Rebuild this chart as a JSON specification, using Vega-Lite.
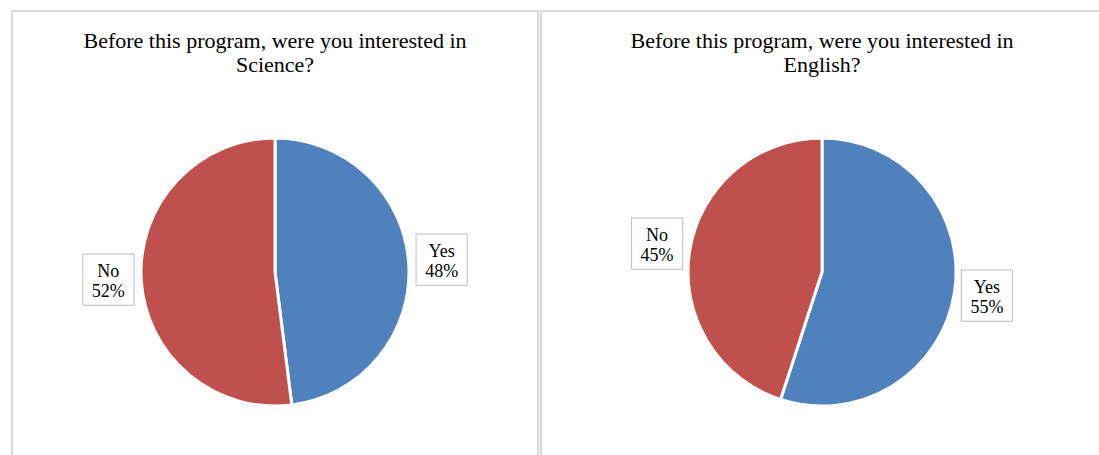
{
  "$schema": "https://vega.github.io/schema/vega-lite/v6.json",
  "background": "white",
  "padding": {"left": 11, "top": 10, "right": 0, "bottom": 0},
  "data": {
    "values": [
      {"question": "Science", "answer": "Yes", "percent": 48},
      {"question": "Science", "answer": "No", "percent": 52},
      {"question": "English", "answer": "Yes", "percent": 55},
      {"question": "English", "answer": "No", "percent": 45}
    ]
  },
  "transform": [
    {"calculate": "datum.answer === 'Yes' ? 0 : 1", "as": "rank"},
    {"window": [{"op": "sum", "field": "percent", "as": "cum"}], "groupby": ["question"], "sort": [{"field": "rank"}]},
    {"calculate": "datum.cum - datum.percent / 2", "as": "mid"},
    {"calculate": "datum.answer + '\\n' + datum.percent + '%'", "as": "label"}
  ],
  "hconcat": [
    {
      "width": 526,
      "height": 522,
      "view": {"stroke": "#d9d9d9", "strokeWidth": 2},
      "title": {"text": ["Before this program, were you interested in", "Science?"]},
      "transform": [{"filter": "datum.question === 'Science'"}],
      "layer": [
        {
          "mark": {"type": "arc", "outerRadius": 134, "stroke": "white", "strokeWidth": 3},
          "encoding": {
            "theta": {"field": "percent", "type": "quantitative", "stack": true, "scale": {"domain": [0, 100]}},
            "color": {"field": "answer", "type": "nominal", "scale": {"domain": ["Yes", "No"], "range": ["#4f81bd", "#c0504d"]}, "legend": null},
            "order": {"field": "rank", "type": "quantitative"}
          }
        },
        {
          "mark": {"type": "text", "text": "■", "radius": 167, "dy": -5, "font": "DejaVu Sans", "fontSize": 67, "baseline": "middle", "fill": "white", "stroke": "#bfbfbf", "strokeWidth": 1},
          "encoding": {
            "theta": {"field": "mid", "type": "quantitative", "stack": null, "scale": {"domain": [0, 100]}}
          }
        },
        {
          "mark": {"type": "text", "radius": 167, "dy": -10, "font": "Liberation Serif", "fontSize": 18, "lineBreak": "\n", "lineHeight": 20, "baseline": "middle", "color": "#000000"},
          "encoding": {
            "theta": {"field": "mid", "type": "quantitative", "stack": null, "scale": {"domain": [0, 100]}},
            "text": {"field": "label"}
          }
        }
      ]
    },
    {
      "width": 562,
      "height": 522,
      "view": {"stroke": "#d9d9d9", "strokeWidth": 2},
      "title": {"text": ["Before this program, were you interested in", "English?"]},
      "transform": [{"filter": "datum.question === 'English'"}],
      "layer": [
        {
          "mark": {"type": "arc", "outerRadius": 134, "stroke": "white", "strokeWidth": 3},
          "encoding": {
            "theta": {"field": "percent", "type": "quantitative", "stack": true, "scale": {"domain": [0, 100]}},
            "color": {"field": "answer", "type": "nominal", "scale": {"domain": ["Yes", "No"], "range": ["#4f81bd", "#c0504d"]}, "legend": null},
            "order": {"field": "rank", "type": "quantitative"}
          }
        },
        {
          "mark": {"type": "text", "text": "■", "radius": 167, "dy": -5, "font": "DejaVu Sans", "fontSize": 67, "baseline": "middle", "fill": "white", "stroke": "#bfbfbf", "strokeWidth": 1},
          "encoding": {
            "theta": {"field": "mid", "type": "quantitative", "stack": null, "scale": {"domain": [0, 100]}}
          }
        },
        {
          "mark": {"type": "text", "radius": 167, "dy": -10, "font": "Liberation Serif", "fontSize": 18, "lineBreak": "\n", "lineHeight": 20, "baseline": "middle", "color": "#000000"},
          "encoding": {
            "theta": {"field": "mid", "type": "quantitative", "stack": null, "scale": {"domain": [0, 100]}},
            "text": {"field": "label"}
          }
        }
      ]
    }
  ],
  "spacing": 1,
  "config": {
    "title": {"font": "Liberation Serif", "fontSize": 22, "fontWeight": "normal", "color": "#000000", "anchor": "middle", "frame": "group", "offset": -66, "lineHeight": 24}
  }
}
